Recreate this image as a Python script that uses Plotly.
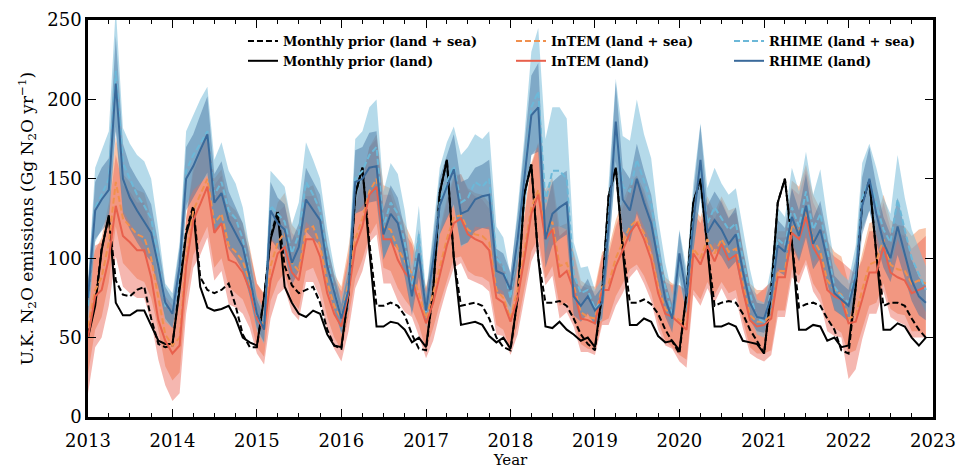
import pandas as pd
import plotly.graph_objects as go

# Monthly time axis, Jan 2013 - Dec 2022
months = pd.date_range("2013-01-01", "2022-12-01", freq="MS")

# Monthly prior emissions (Gg N2O / yr)
prior_land_sea = [
    52, 72, 106, 126, 86, 77, 76, 80, 82, 62, 46, 44,
    45, 82, 117, 133, 88, 80, 78, 80, 84, 70, 52, 44,
    44, 76, 113, 130, 95, 83, 78, 80, 82, 72, 55, 45,
    43, 78, 140, 157, 110, 70, 70, 72, 70, 64, 52, 43,
    42, 80, 141, 162, 100, 70, 71, 72, 70, 62, 50, 44,
    42, 75, 140, 159, 100, 72, 72, 73, 70, 62, 52, 46,
    42, 78, 139, 157, 108, 72, 72, 74, 71, 65, 55, 48,
    40, 78, 135, 150, 107, 70, 72, 73, 72, 65, 55, 48,
    40, 80, 135, 150, 110, 69, 71, 72, 70, 62, 55, 42,
    40, 82, 135, 149, 103, 70, 72, 72, 70, 62, 55, 50,
]
prior_land = [
    50, 70, 105, 127, 72, 64, 64, 67, 67, 58, 48, 46,
    46, 80, 115, 131, 82, 69, 67, 68, 70, 62, 50, 47,
    45, 75, 112, 128, 82, 72, 65, 63, 67, 65, 52, 45,
    44, 78, 140, 157, 105, 57, 57, 60, 59, 55, 47, 50,
    44, 80, 141, 162, 100, 58, 59, 60, 58, 51, 47, 50,
    43, 75, 140, 159, 100, 57, 56, 60, 55, 52, 48, 50,
    44, 78, 139, 157, 105, 58, 58, 62, 60, 51, 47, 48,
    42, 78, 135, 150, 107, 57, 57, 59, 57, 48, 47, 46,
    40, 80, 135, 150, 110, 55, 55, 58, 57, 48, 50, 44,
    45, 82, 135, 149, 103, 55, 55, 59, 57, 50, 45, 50,
]

# InTEM posterior means and 1-sigma spreads
intem_land_sea = [
    57, 80, 88, 110, 148, 125, 120, 115, 113, 100, 75, 52,
    45, 50, 100, 130, 140, 150, 122, 128, 108, 104, 98, 85,
    64, 58, 95, 110, 116, 97, 92, 118, 120, 108, 85, 70,
    62, 85, 112, 125, 142, 150, 120, 118, 106, 98, 90, 78,
    62, 78, 95, 112, 126, 127, 118, 115, 114, 110, 80, 75,
    62, 80, 104, 132, 143, 115, 123, 95, 97, 83, 66, 63,
    62, 82, 84, 100, 110, 120, 124, 116, 103, 82, 68, 64,
    61, 58, 106, 100, 112, 103, 112, 104, 106, 84, 64, 60,
    60, 64, 92, 92, 121, 117, 129, 112, 104, 86, 80, 77,
    62, 64, 80, 96, 98, 112, 96, 93, 92, 84, 86, 84,
]
intem_land = [
    50, 76, 80, 100, 133, 114, 110, 105, 105, 88, 61, 48,
    40, 45, 95, 124, 134, 145, 116, 122, 99, 97, 91, 80,
    62, 55, 86, 103, 107, 91, 86, 112, 112, 101, 78, 65,
    57, 78, 107, 120, 140, 145, 112, 112, 99, 91, 86, 72,
    59, 72, 90, 108, 122, 125, 115, 112, 110, 105, 75, 72,
    60, 75, 99, 128, 140, 112, 118, 88, 92, 80, 62, 61,
    59, 80, 80, 95, 105, 116, 122, 112, 99, 78, 65, 63,
    59, 55, 103, 96, 108, 98, 109, 99, 102, 80, 61, 57,
    58, 62, 88, 88, 116, 112, 126, 107, 99, 80, 76, 74,
    59, 60, 74, 91, 91, 107, 91, 88, 86, 78, 80, 82,
]
intem_land_sea_err = [
    30, 25, 25, 25, 28, 28, 28, 28, 28, 25, 20, 20,
    22, 22, 25, 28, 30, 30, 28, 28, 26, 26, 24, 22,
    20, 20, 22, 25, 25, 24, 24, 26, 26, 25, 22, 20,
    20, 22, 25, 26, 28, 28, 26, 26, 25, 24, 22, 20,
    20, 22, 24, 26, 26, 26, 26, 26, 26, 25, 22, 20,
    20, 22, 24, 28, 30, 28, 28, 25, 25, 22, 20, 20,
    20, 22, 22, 24, 26, 27, 28, 27, 25, 22, 20, 20,
    22, 22, 26, 26, 27, 26, 27, 26, 26, 23, 20, 20,
    20, 22, 25, 25, 28, 28, 30, 28, 27, 25, 24, 24,
    22, 22, 24, 26, 26, 28, 28, 28, 28, 30, 32, 35,
]
intem_land_err = [
    35, 32, 30, 30, 32, 32, 32, 30, 30, 28, 25, 28,
    30, 30, 30, 30, 32, 32, 30, 30, 28, 28, 26, 24,
    22, 22, 24, 26, 26, 25, 25, 27, 27, 26, 23, 22,
    22, 24, 26, 28, 30, 30, 28, 28, 26, 25, 23, 21,
    22, 24, 25, 27, 28, 28, 28, 27, 27, 26, 23, 21,
    21, 23, 25, 30, 32, 29, 29, 26, 26, 23, 21, 20,
    20, 22, 22, 25, 27, 28, 29, 28, 26, 23, 20, 20,
    24, 24, 26, 26, 27, 26, 28, 27, 27, 24, 21, 20,
    23, 23, 25, 25, 28, 28, 30, 28, 27, 26, 25, 24,
    35, 30, 25, 26, 26, 28, 28, 28, 28, 28, 30, 32,
]

# RHIME posterior means and spreads
rhime_land_sea = [
    70, 132, 140, 150, 218, 160, 150, 140, 133, 125, 100, 70,
    66, 92, 155, 165, 172, 180, 140, 148, 130, 125, 112, 90,
    64, 56, 133, 128, 123, 103, 115, 148, 140, 130, 100, 80,
    62, 82, 150, 155, 165, 170, 120, 135, 128, 110, 80, 115,
    66, 100, 135, 148, 158, 135, 138, 148, 145, 150, 100, 95,
    75, 112, 150, 195, 205, 135, 155, 155, 150, 90, 78, 80,
    68, 73, 125, 183, 145, 142, 162, 148, 135, 105, 82, 65,
    100, 78, 125, 160, 122, 132, 125, 118, 122, 100, 78, 62,
    60, 80, 112, 108, 132, 120, 142, 118, 128, 105, 82, 76,
    72, 92, 138, 150, 135, 118, 110, 137, 118, 100, 90, 80,
]
rhime_land = [
    75, 130, 137, 143, 210, 150, 138, 130, 123, 116, 95, 72,
    65, 95, 150, 158, 168, 178, 135, 141, 124, 116, 107, 88,
    65, 55, 130, 122, 118, 97, 107, 137, 130, 124, 95, 78,
    62, 80, 148, 150, 157, 158, 115, 128, 122, 103, 76, 103,
    67, 99, 133, 145, 156, 128, 130, 137, 139, 140, 92, 90,
    80, 112, 150, 190, 195, 112, 128, 132, 135, 76, 70, 76,
    67, 72, 120, 186, 137, 130, 150, 135, 122, 99, 74, 62,
    103, 76, 122, 162, 116, 124, 118, 109, 115, 92, 72, 63,
    62, 76, 108, 104, 126, 114, 133, 109, 118, 99, 78, 74,
    70, 88, 133, 150, 128, 110, 100, 120, 103, 86, 76, 72,
]
rhime_land_sea_up = [
    15, 25, 28, 30, 40, 22, 22, 25, 28, 25, 18, 14,
    12, 18, 25, 25, 28, 28, 22, 25, 25, 22, 20, 15,
    12, 12, 22, 22, 22, 18, 20, 25, 22, 20, 18, 14,
    12, 15, 25, 25, 30, 30, 22, 25, 25, 20, 15, 18,
    12, 18, 22, 25, 25, 30, 32, 30, 30, 30, 20, 18,
    14, 20, 25, 35, 40, 40, 40, 40, 38, 20, 16, 15,
    12, 14, 22, 30, 32, 32, 38, 30, 28, 20, 15, 12,
    18, 15, 22, 25, 22, 25, 22, 22, 22, 18, 15, 12,
    12, 15, 20, 18, 25, 22, 25, 22, 28, 20, 15, 14,
    14, 16, 22, 22, 22, 20, 18, 28, 20, 18, 16, 15,
]
rhime_land_sea_dn = [
    12, 22, 22, 22, 35, 30, 28, 25, 25, 25, 16, 10,
    10, 15, 22, 22, 25, 28, 22, 25, 22, 22, 18, 14,
    10, 10, 20, 20, 20, 16, 18, 25, 22, 20, 16, 12,
    10, 14, 22, 22, 25, 28, 20, 25, 22, 20, 14, 18,
    10, 16, 20, 22, 25, 28, 28, 28, 26, 30, 18, 16,
    12, 18, 22, 30, 35, 32, 35, 35, 32, 18, 14, 14,
    10, 12, 20, 28, 28, 28, 32, 28, 25, 18, 14, 10,
    15, 12, 20, 22, 20, 22, 20, 20, 22, 16, 14, 10,
    10, 12, 18, 16, 22, 20, 25, 20, 25, 18, 14, 12,
    12, 14, 20, 20, 20, 18, 16, 25, 18, 16, 15, 14,
]
rhime_land_err = [
    10, 18, 20, 20, 30, 22, 20, 20, 20, 18, 14, 10,
    9, 12, 20, 20, 22, 24, 18, 20, 18, 16, 15, 12,
    9, 8, 18, 16, 16, 14, 15, 20, 18, 16, 14, 11,
    9, 12, 20, 20, 22, 22, 16, 18, 16, 15, 12, 15,
    9, 14, 18, 20, 22, 20, 20, 20, 20, 22, 14, 13,
    11, 15, 20, 25, 28, 18, 20, 20, 20, 12, 10, 11,
    9, 10, 18, 25, 20, 20, 22, 20, 18, 14, 11, 9,
    14, 11, 18, 22, 17, 18, 17, 16, 17, 14, 11, 9,
    9, 11, 16, 15, 18, 16, 20, 16, 18, 15, 11, 10,
    10, 12, 18, 20, 18, 16, 15, 18, 15, 13, 12, 11,
]

year_ticks = [str(y) for y in range(2013, 2024)]

SERIF = "DejaVu Serif"

x = list(months)
xr = x[::-1]


def band(mean, up, dn, color):
    hi = [m + u for m, u in zip(mean, up)]
    lo = [m - d for m, d in zip(mean, dn)]
    return go.Scatter(
        x=x + xr, y=hi + lo[::-1], fill="toself", fillcolor=color,
        line=dict(width=0), mode="lines", hoverinfo="skip", showlegend=False,
    )


fig = go.Figure()

# uncertainty bands
fig.add_trace(band(intem_land_sea, intem_land_sea_err, intem_land_sea_err, "rgba(244,150,100,0.55)"))
fig.add_trace(band(intem_land, intem_land_err, intem_land_err, "rgba(232,96,80,0.45)"))
fig.add_trace(band(rhime_land_sea, rhime_land_sea_up, rhime_land_sea_dn, "rgba(120,188,216,0.55)"))
fig.add_trace(band(rhime_land, rhime_land_err, rhime_land_err, "rgba(62,108,158,0.45)"))

DASH = "6px,3px"

# prior lines
fig.add_trace(go.Scatter(x=x, y=prior_land_sea, mode="lines", name="<b>Monthly prior (land + sea)</b>",
                         line=dict(color="black", width=2, dash=DASH), legend="legend"))
fig.add_trace(go.Scatter(x=x, y=prior_land, mode="lines", name="<b>Monthly prior (land)</b>",
                         line=dict(color="black", width=2), legend="legend"))
# InTEM lines
fig.add_trace(go.Scatter(x=x, y=intem_land_sea, mode="lines", name="<b>InTEM (land + sea)</b>",
                         line=dict(color="#f0904e", width=2, dash=DASH), legend="legend2"))
fig.add_trace(go.Scatter(x=x, y=intem_land, mode="lines", name="<b>InTEM (land)</b>",
                         line=dict(color="#e8604c", width=2), legend="legend2"))
# RHIME lines
fig.add_trace(go.Scatter(x=x, y=rhime_land_sea, mode="lines", name="<b>RHIME (land + sea)</b>",
                         line=dict(color="#6cb8d8", width=2, dash=DASH), legend="legend3"))
fig.add_trace(go.Scatter(x=x, y=rhime_land, mode="lines", name="<b>RHIME (land)</b>",
                         line=dict(color="#3a6a9b", width=2), legend="legend3"))

leg_common = dict(
    yanchor="top", xanchor="left", bgcolor="rgba(0,0,0,0)", borderwidth=0,
    font=dict(family=SERIF, size=13, color="black"), tracegroupgap=0,
    itemwidth=30, y=0.985,
)

fig.update_layout(
    width=958, height=469,
    margin=dict(l=88, r=25, t=20, b=52),
    plot_bgcolor="white", paper_bgcolor="white",
    font=dict(family=SERIF, size=18, color="black"),
    legend=dict(x=0.1834, **leg_common),
    legend2=dict(x=0.5006, **leg_common),
    legend3=dict(x=0.7586, **leg_common),
    xaxis=dict(
        range=["2013-01-01", "2023-01-01"],
        tickvals=[pd.Timestamp(f"{y}-01-01") for y in year_ticks],
        ticktext=year_ticks,
        ticks="inside", ticklen=8, tickwidth=1.2, tickcolor="black",
        ticklabelstandoff=6,
        minor=dict(dtick="M3", ticks="inside", ticklen=4, tickwidth=1, tickcolor="black"),
        showline=True, linewidth=2.5, linecolor="black", mirror="allticks",
        showgrid=False, zeroline=False, automargin=False,
        tickfont=dict(family=SERIF, size=18),
        title=dict(text="Year", font=dict(family=SERIF, size=15), standoff=8),
    ),
    yaxis=dict(
        range=[0, 250], tickvals=[0, 50, 100, 150, 200, 250],
        ticks="inside", ticklen=8, tickwidth=1.2, tickcolor="black",
        showline=True, linewidth=2.5, linecolor="black", mirror="allticks",
        showgrid=False, zeroline=False, automargin=False,
        tickfont=dict(family=SERIF, size=18),
        title=dict(text="U.K. N<sub>2</sub>O emissions (Gg N<sub>2</sub>O yr<sup>\u22121</sup>)",
                   font=dict(family=SERIF, size=17), standoff=10),
    ),
)

fig.write_html("out.html")
